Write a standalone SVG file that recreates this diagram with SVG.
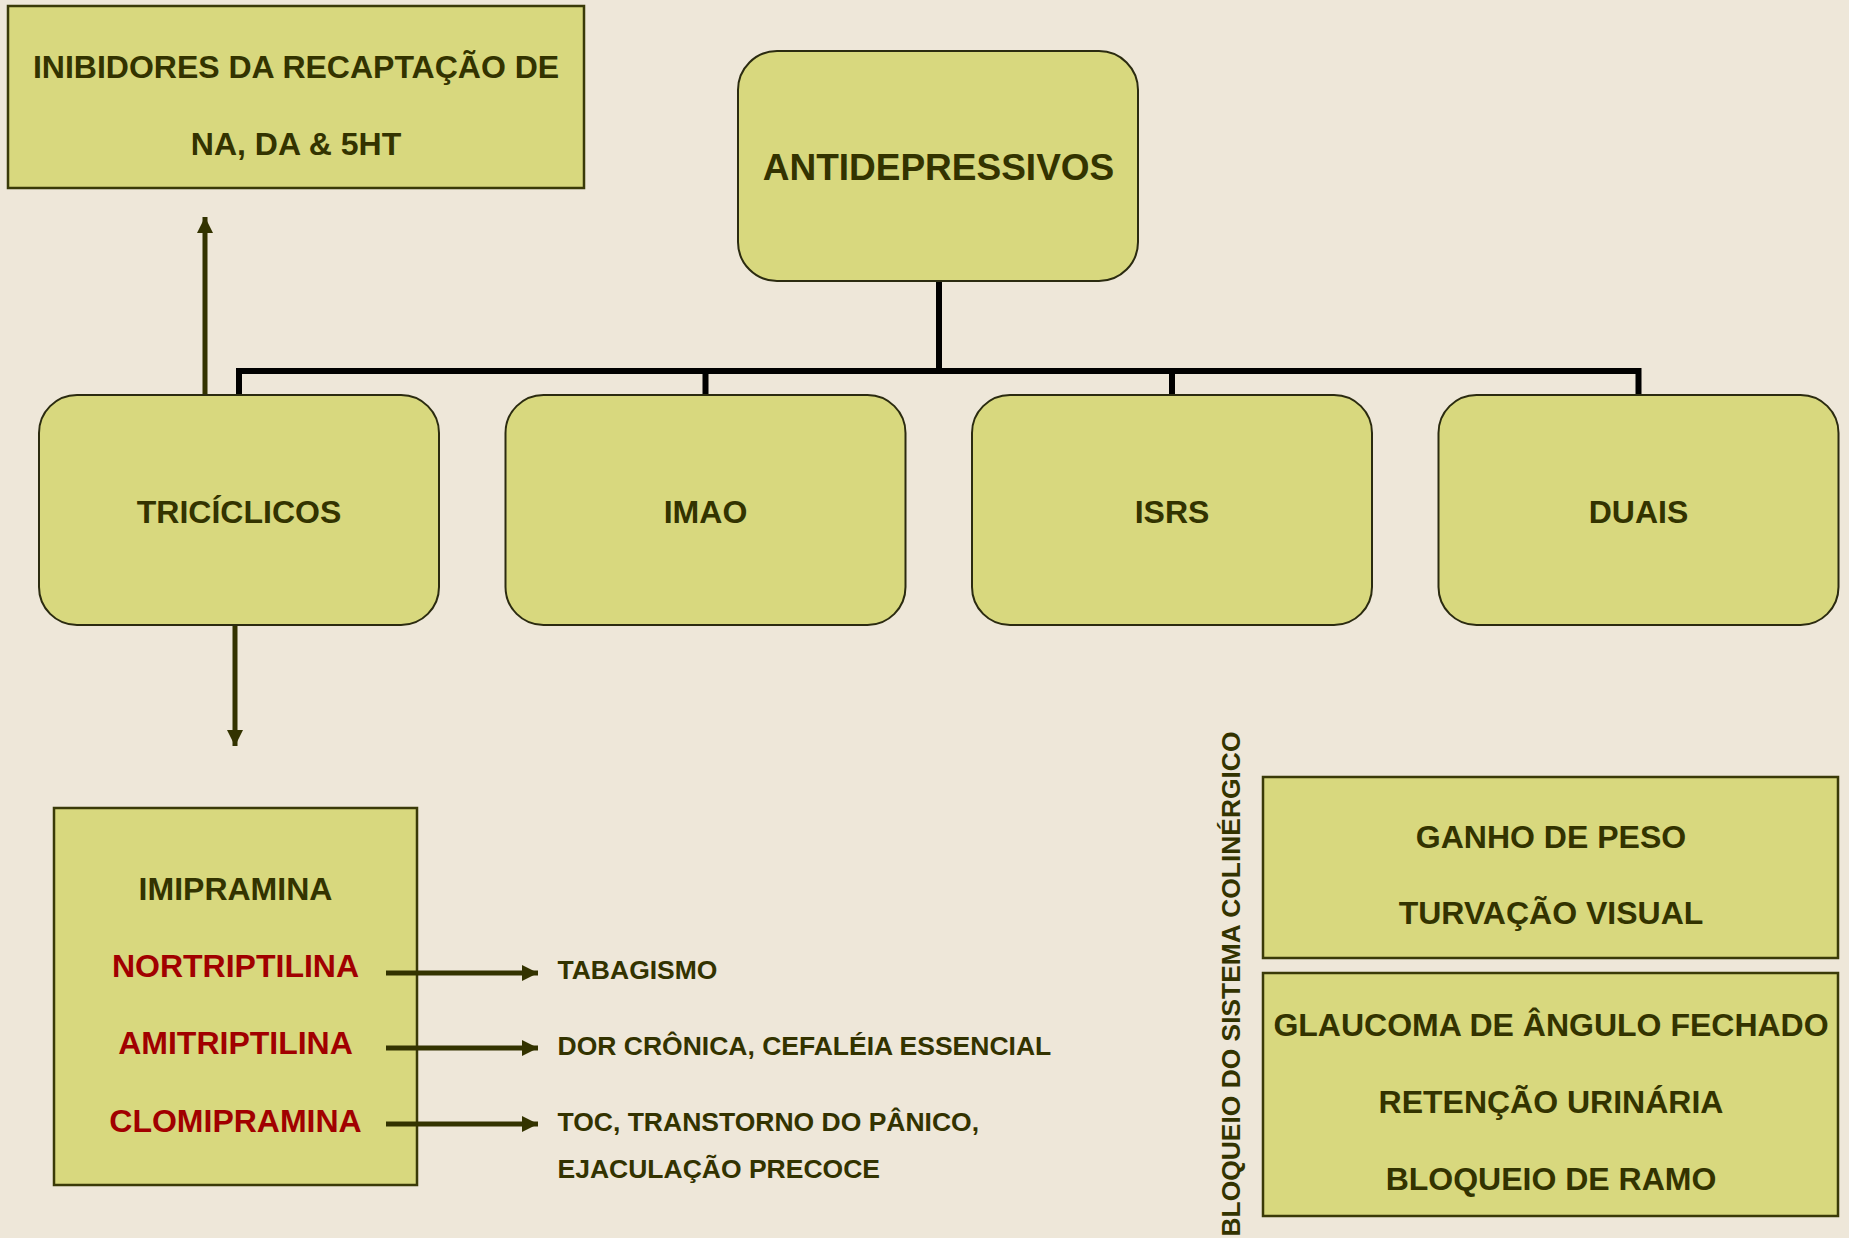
<svg xmlns="http://www.w3.org/2000/svg" width="1849" height="1238" viewBox="0 0 1849 1238">
  <defs>
    <style>
      .bg { fill: #EEE7D9; }
      .node { fill: #D8D87E; stroke: #2B2B10; stroke-width: 2; }
      .box { fill: #D8D87E; stroke: #3A3A08; stroke-width: 2.5; }
      text { font-family: "Liberation Sans", Arial, sans-serif; font-weight: bold; fill: #333300; }
      .c { text-anchor: middle; }
      .red { fill: #A10000; }
      .tree { stroke: #000; stroke-width: 6; fill: none; }
      .arrow { stroke: #333300; stroke-width: 5; fill: none; }
    </style>
    <marker id="ah" markerUnits="userSpaceOnUse" markerWidth="16" markerHeight="16" refX="16" refY="8" orient="auto">
      <path d="M0,0 L16,8 L0,16 Z" fill="#333300"/>
    </marker>
  </defs>

  <rect class="bg" x="0" y="0" width="1849" height="1238"/>

  <g id="inibidores">
    <rect class="box" x="8" y="6" width="576" height="182"/>
    <text class="c" x="296" y="78" font-size="32">INIBIDORES DA RECAPTAÇÃO DE</text>
    <text class="c" x="296" y="155" font-size="32">NA, DA &amp; 5HT</text>
  </g>

  <g id="antidepressivos">
    <rect class="node" x="738" y="51" width="400" height="230" rx="39" ry="39"/>
    <text class="c" x="938.5" y="180" font-size="37">ANTIDEPRESSIVOS</text>
  </g>

  <g id="triciclicos">
    <rect class="node" x="39" y="395" width="400" height="230" rx="38" ry="38"/>
    <text class="c" x="239" y="523" font-size="32">TRICÍCLICOS</text>
  </g>

  <g id="imao">
    <rect class="node" x="505.5" y="395" width="400" height="230" rx="38" ry="38"/>
    <text class="c" x="705.5" y="523" font-size="32">IMAO</text>
  </g>

  <g id="isrs">
    <rect class="node" x="972" y="395" width="400" height="230" rx="38" ry="38"/>
    <text class="c" x="1172" y="523" font-size="32">ISRS</text>
  </g>

  <g id="duais">
    <rect class="node" x="1438.5" y="395" width="400" height="230" rx="38" ry="38"/>
    <text class="c" x="1638.5" y="523" font-size="32">DUAIS</text>
  </g>

  <g id="farmacos">
    <rect class="box" x="54" y="808" width="363" height="377"/>
    <text class="c" x="235.5" y="900" font-size="32">IMIPRAMINA</text>
    <text class="c red" x="235.5" y="977" font-size="32">NORTRIPTILINA</text>
    <text class="c red" x="235.5" y="1054" font-size="32">AMITRIPTILINA</text>
    <text class="c red" x="235.5" y="1132" font-size="32">CLOMIPRAMINA</text>
  </g>

  <g id="indicacoes">
    <text x="557.5" y="979" font-size="26.5">TABAGISMO</text>
    <text x="557.5" y="1055" font-size="26.5">DOR CRÔNICA, CEFALÉIA ESSENCIAL</text>
    <text x="557.5" y="1131" font-size="26.5">TOC, TRANSTORNO DO PÂNICO,</text>
    <text x="557.5" y="1178" font-size="26.5">EJACULAÇÃO PRECOCE</text>
  </g>

  <g id="bloqueio-colinergico">
    <text class="c" transform="translate(1240,984) rotate(-90)" x="0" y="0" font-size="26.4" fill="#222200">BLOQUEIO DO SISTEMA COLINÉRGICO</text>
  </g>

  <g id="efeitos-1">
    <rect class="box" x="1263" y="777" width="575" height="181"/>
    <text class="c" x="1551" y="848" font-size="32">GANHO DE PESO</text>
    <text class="c" x="1551" y="924" font-size="32">TURVAÇÃO VISUAL</text>
  </g>

  <g id="efeitos-2">
    <rect class="box" x="1263" y="973" width="575" height="243"/>
    <text class="c" x="1551" y="1036" font-size="32">GLAUCOMA DE ÂNGULO FECHADO</text>
    <text class="c" x="1551" y="1113" font-size="32">RETENÇÃO URINÁRIA</text>
    <text class="c" x="1551" y="1190" font-size="32">BLOQUEIO DE RAMO</text>
  </g>

  <!-- connectors, drawn over the boxes -->
  <g id="connectors">
    <path class="tree" d="M939,282 V371 M239,394 V371 H1638.5 V394 M705.5,371 V394 M1172,371 V394"/>
    <line class="arrow" x1="205" y1="394" x2="205" y2="217" marker-end="url(#ah)"/>
    <line class="arrow" x1="235" y1="626" x2="235" y2="746" marker-end="url(#ah)"/>
    <line class="arrow" x1="386" y1="973" x2="538" y2="973" marker-end="url(#ah)"/>
    <line class="arrow" x1="386" y1="1048" x2="538" y2="1048" marker-end="url(#ah)"/>
    <line class="arrow" x1="386" y1="1124" x2="538" y2="1124" marker-end="url(#ah)"/>
  </g>
</svg>
